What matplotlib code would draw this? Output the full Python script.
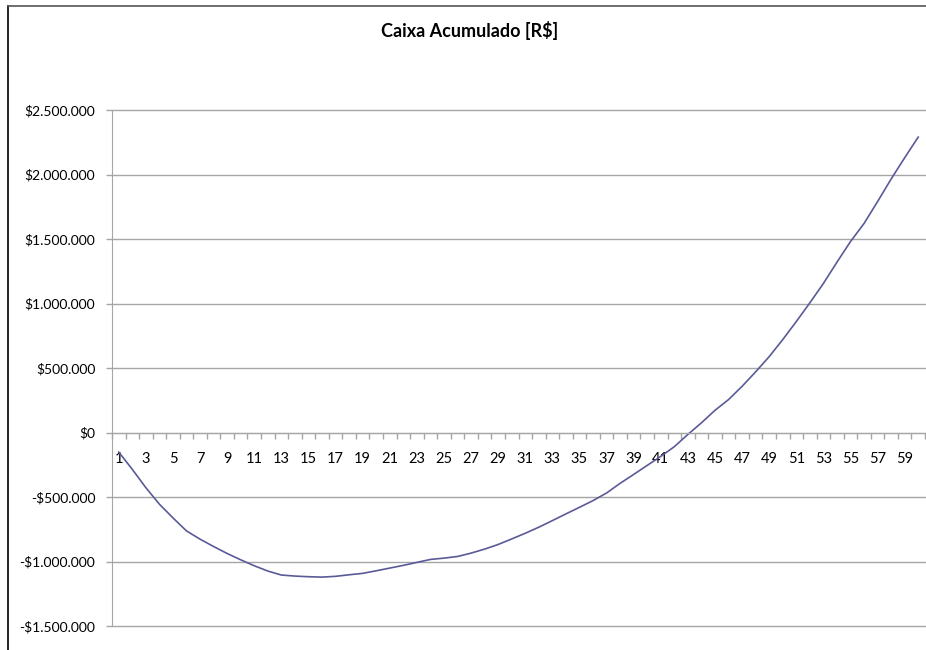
import matplotlib.pyplot as plt
from matplotlib.lines import Line2D
from matplotlib.ticker import FuncFormatter

# cumulative cash per month (R$)
months = list(range(1, 61))
caixa = [
    -152000, -286000, -428000, -556000, -662000, -763000, -827000, -884000,
    -938000, -987000, -1033000, -1074000, -1105000, -1113000, -1118000,
    -1121000, -1115000, -1103000, -1092000, -1072000, -1051000, -1030000,
    -1007000, -984000, -974000, -961000, -935000, -904000, -868000, -825000,
    -781000, -734000, -683000, -631000, -580000, -528000, -469000, -394000,
    -325000, -255000, -185000, -110000, -15000, 75000, 172000, 255000,
    358000, 470000, 588000, 720000, 860000, 1005000, 1155000, 1320000,
    1480000, 1620000, 1790000, 1965000, 2130000, 2290000,
]
y_ticks = [-1500000, -1000000, -500000, 0, 500000, 1000000, 1500000, 2000000, 2500000]
title = "Caixa Acumulado [R$]"

plt.rcParams["font.family"] = ["Lato", "DejaVu Sans"]
grid = "#A6A6A6"
line_color = "#5A5A98"


def reais(v, _pos=None):
    s = f"{abs(int(v)):,}".replace(",", ".")
    return ("-$" if v < 0 else "$") + s


fig = plt.figure(figsize=(9.26, 6.5), dpi=100)
fig.patch.set_facecolor("white")
ax = fig.add_axes([112 / 926, 1 - 626 / 650, 813 / 926, 516 / 650])

ax.plot(months, caixa, color=line_color, linewidth=1.2, solid_joinstyle="round")

ax.set_xlim(0.5, len(months) + 0.5)
ax.set_ylim(y_ticks[0], y_ticks[-1])
ax.set_yticks(y_ticks)
ax.yaxis.set_major_formatter(FuncFormatter(reais))
ax.grid(axis="y", color=grid, linewidth=1)
for gl in ax.get_ygridlines():
    gl.set_clip_on(False)
ax.set_axisbelow(True)

# category axis crossing at zero: boundary ticks, labels every other month
ax.set_xticks([m - 0.5 for m in months] + [months[-1] + 0.5])
ax.set_xticklabels([])
ax.set_xticks(months[::2], minor=True)
ax.set_xticklabels([str(m) for m in months[::2]], minor=True)
ax.tick_params(axis="x", which="major", direction="out", length=4, color=grid, width=1)
ax.tick_params(axis="x", which="minor", length=0, pad=14, labelsize=10.5, labelcolor="black")
ax.tick_params(axis="y", direction="out", length=4, color=grid, width=1,
               labelsize=10, labelcolor="black", pad=8)

ax.spines[["top", "right"]].set_visible(False)
ax.spines["bottom"].set_position(("data", 0))
ax.spines["bottom"].set_color(grid)
ax.spines["left"].set_color(grid)
ax.set_facecolor("white")

fig.text(470 / 926, 1 - 31 / 650, title, ha="center", va="center",
         fontsize=13, fontweight="bold", color="black")

# chart area border
fig.add_artist(Line2D([8 / 926, 8 / 926], [0, 1 - 6 / 650], transform=fig.transFigure,
                      color="black", linewidth=1.2))
fig.add_artist(Line2D([8 / 926, 1], [1 - 6 / 650, 1 - 6 / 650], transform=fig.transFigure,
                      color="#555555", linewidth=1.2))

fig.savefig("out.png", dpi=100, facecolor="white")
plt.close(fig)
